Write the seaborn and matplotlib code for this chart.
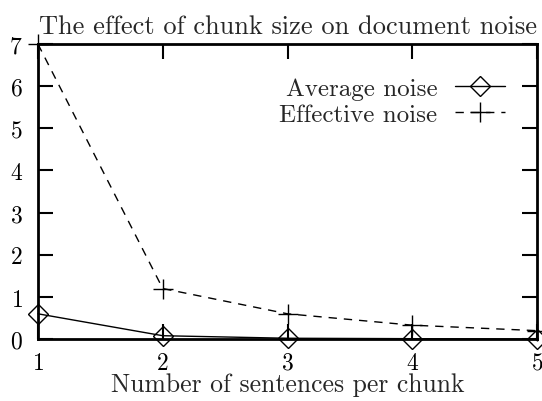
import matplotlib
matplotlib.use("Agg")
import matplotlib.pyplot as plt
import pandas as pd
import seaborn as sns

# data
sentences = [1, 2, 3, 4, 5]
average_noise = [0.6, 0.08, 0.02, 0.01, 0.0]
effective_noise = [7.0, 1.2, 0.6, 0.33, 0.2]

sns.set_theme(style="white")
plt.rcParams["font.family"] = ["cmr10", "DejaVu Serif"]
plt.rcParams["axes.formatter.use_mathtext"] = True

df = pd.DataFrame({"x": sentences, "avg": average_noise, "eff": effective_noise})

fig = plt.figure(figsize=(5.42, 4.02), dpi=100)
ax = fig.add_axes([0.070, 0.154, 0.921, 0.734])

sns.lineplot(data=df, x="x", y="avg", ax=ax, color="black", lw=1,
             marker="D", ms=10, mfc="none", mec="black", mew=1,
             label="Average noise", clip_on=False)
sns.lineplot(data=df, x="x", y="eff", ax=ax, color="black", lw=1,
             linestyle=(0, (6, 5)), marker="+", ms=15, mec="black", mew=1,
             label="Effective noise", clip_on=False)

ax.set_xlim(1, 5)
ax.set_ylim(0, 7)
ax.set_xticks(sentences)
ax.set_yticks(range(0, 8))
ax.tick_params(direction="in", length=11, width=1.5, labelsize=17,
               top=True, right=True, bottom=True, left=True,
               colors="black")
ax.tick_params(axis="x", pad=9)
ax.tick_params(axis="y", pad=11)
for s in ax.spines.values():
    s.set_linewidth(2)
    s.set_color("black")

ax.set_title("The effect of chunk size on document noise", fontsize=19, pad=8)
ax.set_xlabel("Number of sentences per chunk", fontsize=18.5, labelpad=-1)
ax.set_ylabel("")

leg = ax.legend(loc="upper right", frameon=False, fontsize=18,
                markerfirst=False, handlelength=2.0, handletextpad=0.7,
                borderaxespad=0.4, labelspacing=0.15,
                bbox_to_anchor=(0.975, 0.955))

fig.savefig("out.png", dpi=100)
